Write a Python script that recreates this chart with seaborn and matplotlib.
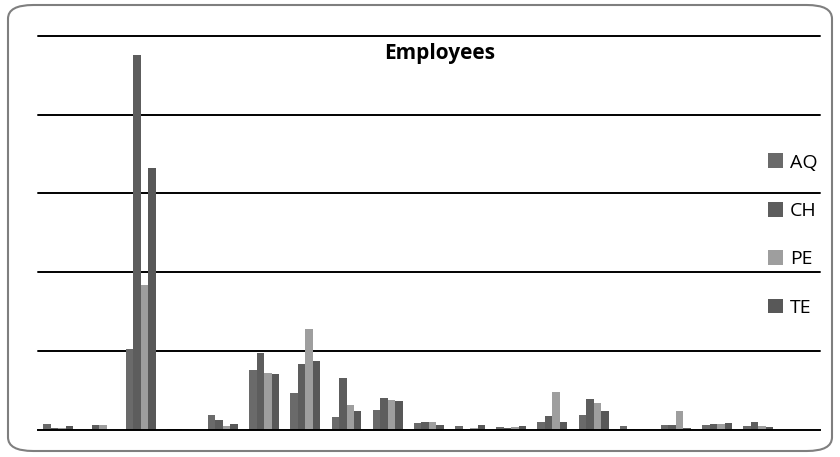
import matplotlib
matplotlib.use("Agg")
import matplotlib.pyplot as plt
from matplotlib.patches import FancyBboxPatch, Patch
import numpy as np
import pandas as pd
import seaborn as sns

# Employee counts per sector for the four regions
categories = [f"S{i:02d}" for i in range(1, 20)]
series = ["AQ", "CH", "PE", "TE"]
aq = [72, 0, 1023, 10, 186, 761, 473, 165, 258, 89, 51, 38, 106, 194, 55, 68, 59, 47, 0]
ch = [22, 68, 4751, 10, 131, 980, 841, 655, 402, 97, 13, 25, 174, 393, 13, 59, 80, 97, 0]
pe = [22, 68, 1839, 8, 47, 723, 1277, 321, 380, 97, 25, 34, 486, 347, 13, 245, 72, 51, 0]
te = [47, 5, 3319, 5, 72, 714, 871, 237, 368, 68, 63, 51, 97, 237, 13, 25, 93, 34, 0]
colors = ["#6a6a6a", "#5d5d5d", "#9e9e9e", "#585858"]

df = pd.DataFrame({
    "sector": categories * 4,
    "region": sum([[s] * len(categories) for s in series], []),
    "employees": aq + ch + pe + te,
})

sns.set_theme(style="white")
plt.rcParams["font.family"] = ["Open Sans", "DejaVu Sans"]
plt.rcParams["text.color"] = "black"

fig = plt.figure(figsize=(8.4, 4.57), dpi=100)
ax = fig.add_axes([37.7 / 840, 27 / 457, (820 - 37.7) / 840, (430 - 35.7) / 457])

sns.barplot(data=df, x="sector", y="employees", hue="region",
            hue_order=series, palette=colors, width=0.727, gap=0,
            saturation=1, linewidth=0, legend=False, ax=ax)

ax.set_xlim(-0.5, len(categories) - 0.5)
ax.set_ylim(0, 5000)
ax.set_yticks(np.arange(1000, 5001, 1000))
ax.yaxis.grid(True, color="black", linewidth=1.4)
for gl in ax.get_ygridlines():
    gl.set_clip_on(False)
ax.set_axisbelow(True)
ax.tick_params(left=False, bottom=False, labelleft=False, labelbottom=False)
ax.set_xlabel("")
ax.set_ylabel("")
for side in ["top", "left", "right"]:
    ax.spines[side].set_visible(False)
ax.spines["bottom"].set_color("black")
ax.spines["bottom"].set_linewidth(1.4)
ax.spines["bottom"].set_zorder(5)

fig.text(440 / 840, 1 - 53 / 457, "Employees", ha="center", va="center",
         fontsize=15, fontweight="bold", color="black")

handles = [Patch(facecolor=c, edgecolor="none") for c in colors]
leg = fig.legend(handles, series, loc="upper left",
                 bbox_to_anchor=(768 / 840, 1 - 153.5 / 457),
                 frameon=False, fontsize=14, handlelength=0.78, handleheight=0.78,
                 handletextpad=0.36, labelspacing=1.56, borderpad=0,
                 borderaxespad=0, labelcolor="black")

frame = FancyBboxPatch((8 / 840, 6 / 457), (832 - 8) / 840, (452 - 6) / 457,
                       boxstyle="round,pad=0,rounding_size=0.03",
                       transform=fig.transFigure, facecolor="none",
                       edgecolor="#7f7f7f", linewidth=1.5, zorder=10)
fig.patches.append(frame)

fig.savefig("out.png", dpi=100)
